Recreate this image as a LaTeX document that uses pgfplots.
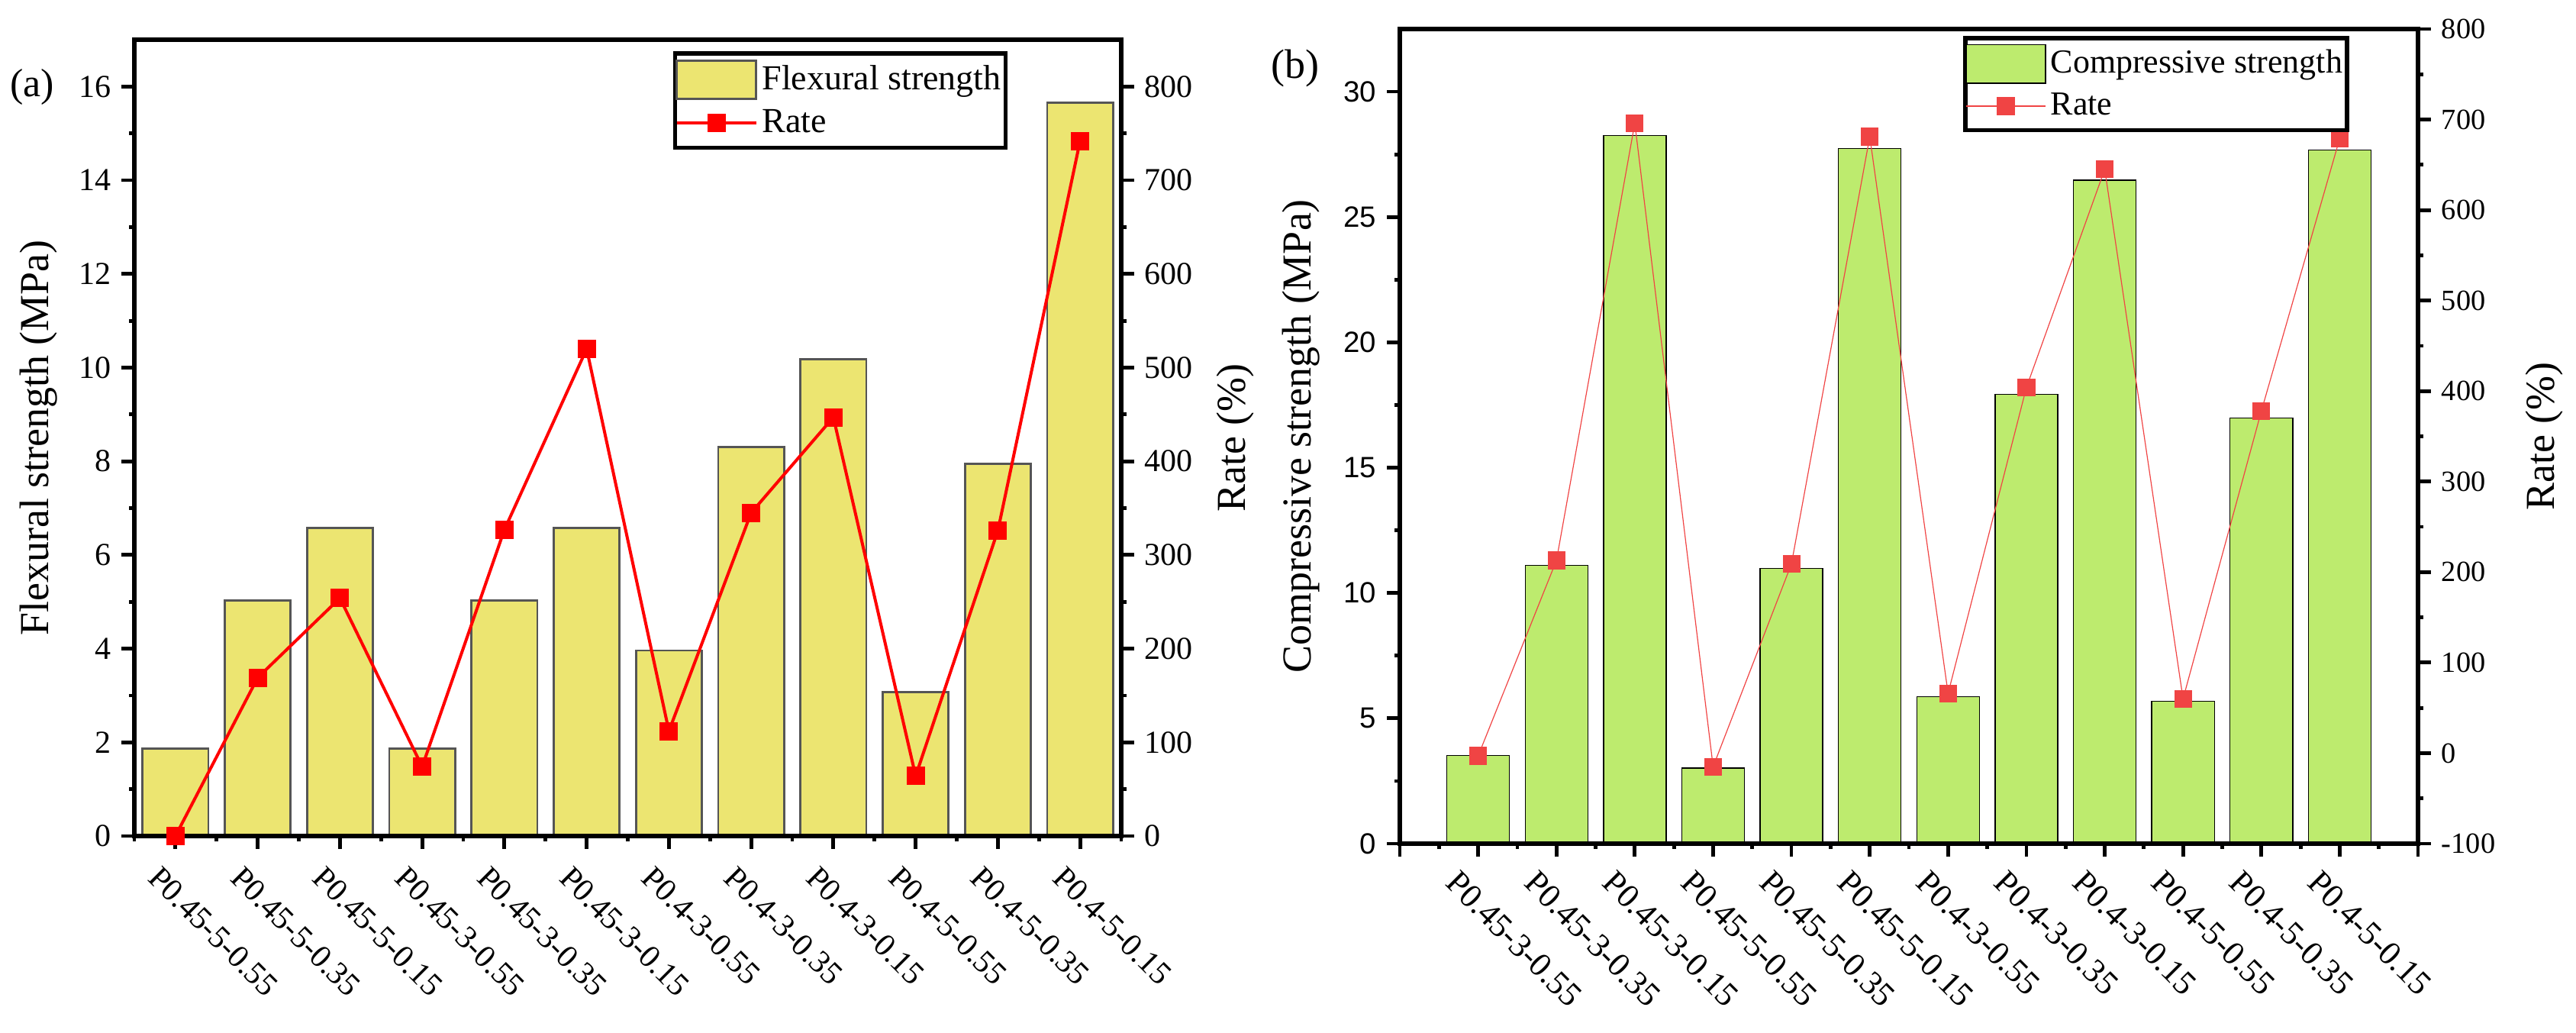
\documentclass[border=0pt]{standalone}
\usepackage{fontspec}
\setmainfont{Liberation Serif}
\setsansfont{Liberation Sans}
\usepackage{pgfplots}
\pgfplotsset{compat=1.18}
\definecolor{flexfill}{RGB}{236,229,113}
\definecolor{flexedge}{RGB}{85,85,85}
\definecolor{compfill}{RGB}{189,235,110}
\definecolor{rateB}{RGB}{240,68,68}
\pgfplotsset{
  myaxis/.style={
    scale only axis, anchor=south west,
    tick align=outside,
    major tick length=4.2pt, minor tick length=1.7pt,
    tick style={line width=1.2pt, black},
    axis line style={line width=1.6pt, -},
    /pgf/number format/assume math mode=true,
    yticklabel style={font=\fontsize{10.5}{12}\selectfont},
  },
  barlegend/.style={legend image code/.code={\draw[##1] (0pt,-6.3pt) rectangle (26pt,6.3pt);}},
  linelegend/.style={legend image code/.code={\draw[mark repeat=2, mark phase=2, ##1] plot coordinates {(0pt,0pt) (13pt,0pt) (26pt,0pt)};}},
}
\begin{document}
\begin{tikzpicture}
\path[use as bounding box] (0,0) rectangle (843.75pt,338pt);
\node[font=\fontsize{13}{15}\selectfont] at (10.5pt,309.5pt) {(a)};
\node[font=\fontsize{13.5}{15}\selectfont] at (424.25pt,315.5pt) {(b)};

% ---------- panel (a) ----------
\begin{axis}[myaxis, at={(44pt,64.25pt)}, width=323.25pt, height=260.75pt,
  axis on top,
  xmin=-0.5, xmax=11.5, ymin=0, ymax=17,
  xtick={0,...,11},
  xticklabels={P0.45-5-0.55,P0.45-5-0.35,P0.45-5-0.15,P0.45-3-0.55,P0.45-3-0.35,P0.45-3-0.15,P0.4-3-0.55,P0.4-3-0.35,P0.4-3-0.15,P0.4-5-0.55,P0.4-5-0.35,P0.4-5-0.15},
  xticklabel style={rotate=-45, anchor=north west, xshift=-3pt, yshift=-3.25pt, font=\fontsize{10.5}{12}\selectfont},
  minor xtick={-0.5,0.5,...,11.5},
  ytick={0,2,...,16}, minor ytick={1,3,...,15},
  xtick pos=bottom, ytick pos=left,
  ylabel={Flexural strength (MPa)},
  every axis y label/.style={at={(axis description cs:-0.0872,0.5)}, rotate=90, anchor=base, font=\fontsize{13.5}{15}\selectfont},
]
\addplot[ybar, bar width=0.8, fill=flexfill, draw=flexedge, line width=0.7pt] coordinates {
(0,1.86) (1,5.03) (2,6.58) (3,1.86) (4,5.03) (5,6.58) (6,3.96) (7,8.31) (8,10.18) (9,3.07) (10,7.94) (11,15.66)};
\end{axis}
\begin{axis}[myaxis, at={(44pt,64.25pt)}, width=323.25pt, height=260.75pt,
  xmin=-0.5, xmax=11.5, ymin=0, ymax=850,
  axis y line*=right, axis x line=none,
  ytick={0,100,...,800}, minor ytick={50,150,...,750},
  clip=false,
  ylabel={Rate (\%)},
  every axis y label/.style={at={(axis description cs:1.126,0.5)}, rotate=90, anchor=base, font=\fontsize{13.5}{15}\selectfont},
  legend style={at={(axis description cs:0.885,0.9856)}, anchor=north east, draw=black, line width=1.4pt, fill=white,
    inner xsep=0pt, inner ysep=2pt, row sep=1.5pt, font=\fontsize{11.5}{13}\selectfont,
    nodes={inner xsep=1.5pt, inner ysep=1.5pt}},
  legend cell align=left,
]
\addlegendimage{barlegend, fill=flexfill, draw=flexedge, line width=0.8pt}
\addlegendentry{Flexural strength}
\addplot[color=red, line width=1pt, mark=square*, mark size=2.5pt, mark options={solid, fill=red, draw=red}, linelegend] coordinates {
(0,0) (1,169) (2,254) (3,74) (4,327) (5,520) (6,112) (7,345) (8,447) (9,64) (10,326) (11,742)};
\addlegendentry{Rate}
\end{axis}

% ---------- panel (b) ----------
\begin{axis}[myaxis, at={(458.5pt,61.75pt)}, width=333.5pt, height=266.75pt,
  axis on top,
  xmin=-1, xmax=12, ymin=0, ymax=32.5,
  xtick={0,...,11},
  xticklabels={P0.45-3-0.55,P0.45-3-0.35,P0.45-3-0.15,P0.45-5-0.55,P0.45-5-0.35,P0.45-5-0.15,P0.4-3-0.55,P0.4-3-0.35,P0.4-3-0.15,P0.4-5-0.55,P0.4-5-0.35,P0.4-5-0.15},
  xticklabel style={rotate=-45, anchor=north west, xshift=-4.75pt, yshift=-3.5pt, font=\fontsize{11}{12}\selectfont},
  extra x ticks={-1,12}, extra x tick labels={},
  minor xtick={-0.5,0.5,...,11.5},
  ytick={0,5,...,30}, minor ytick={2.5,7.5,...,27.5},
  yticklabel style={font=\sffamily\fontsize{9.6}{11}\selectfont},
  xtick pos=bottom, ytick pos=left,
  ylabel={Compressive strength (MPa)},
  every axis y label/.style={at={(axis description cs:-0.087,0.5)}, rotate=90, anchor=base, font=\fontsize{13.5}{15}\selectfont},
]
\addplot[ybar, bar width=0.8, fill=compfill, draw=black, line width=0.35pt] coordinates {
(0,3.51) (1,11.10) (2,28.26) (3,3.01) (4,10.98) (5,27.74) (6,5.86) (7,17.93) (8,26.47) (9,5.68) (10,16.98) (11,27.68)};
\end{axis}
\begin{axis}[myaxis, at={(458.5pt,61.75pt)}, width=333.5pt, height=266.75pt,
  xmin=-1, xmax=12, ymin=-100, ymax=800,
  axis y line*=right, axis x line=none,
  ytick={-100,0,...,800}, minor ytick={-50,50,...,750},
  yticklabel style={font=\fontsize{9.6}{11}\selectfont},
  clip=false,
  ylabel={Rate (\%)},
  every axis y label/.style={at={(axis description cs:1.134,0.5)}, rotate=90, anchor=base, font=\fontsize{13.5}{15}\selectfont},
  legend style={at={(axis description cs:0.9325,0.9916)}, anchor=north east, draw=black, line width=1.4pt, fill=white,
    inner xsep=0pt, inner ysep=2pt, row sep=1.5pt, font=\fontsize{11}{13}\selectfont,
    nodes={inner xsep=1.5pt, inner ysep=1.5pt}},
  legend cell align=left,
]
\addlegendimage{barlegend, fill=compfill, draw=black, line width=0.35pt}
\addlegendentry{Compressive strength}
\addplot[color=rateB, line width=0.3pt, mark=square*, mark size=2.75pt, mark options={solid, fill=rateB, draw=rateB}, linelegend] coordinates {
(0,-3) (1,213) (2,696) (3,-15) (4,209) (5,681) (6,66) (7,404) (8,645) (9,60) (10,378) (11,679)};
\addlegendentry{Rate}
\end{axis}
\end{tikzpicture}
\end{document}
